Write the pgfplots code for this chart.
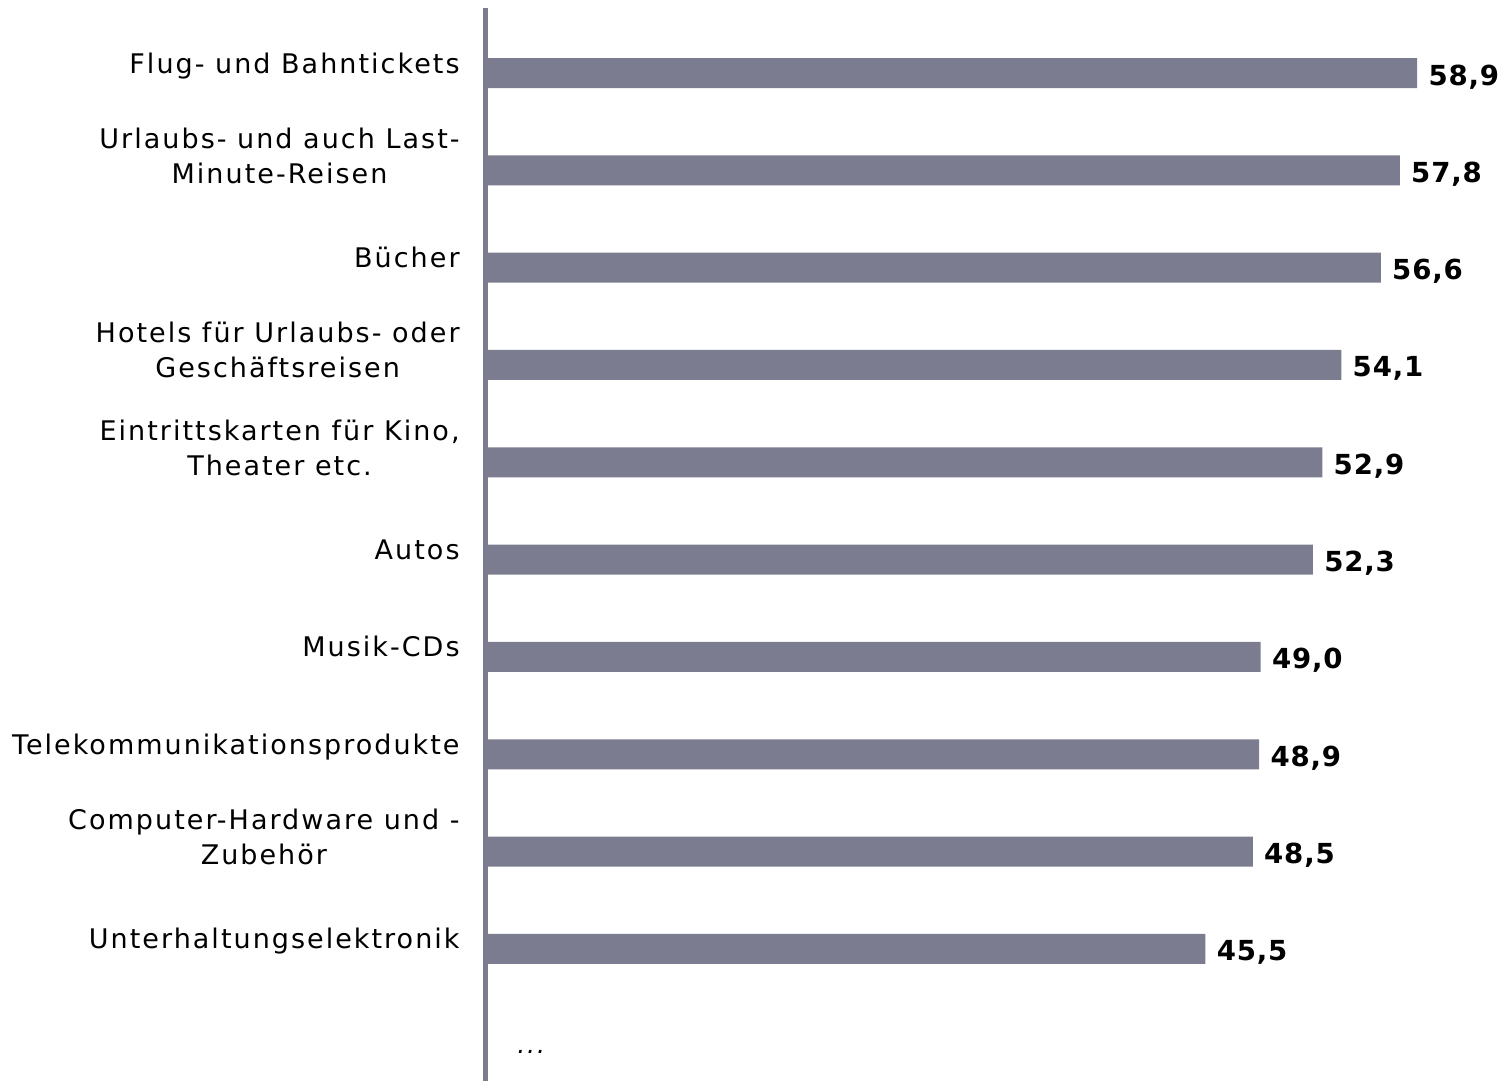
\documentclass[border=0pt]{standalone}
\usepackage{fontspec}
\setmainfont{DejaVu Sans}[LetterSpace=7.5]
\newfontfamily\valfont{DejaVu Sans}[LetterSpace=3]
\usepackage{pgfplots}
\pgfplotsset{compat=1.18}
\definecolor{barcol}{HTML}{7C7C90}
\newcommand{\dn}{\rule[-9.75bp]{0pt}{0pt}}
\begin{document}
\begin{tikzpicture}
\useasboundingbox (-243bp,0) rectangle (508bp,540.5bp);
\begin{axis}[
  scale only axis,
  width=474.3bp, height=536.5bp,
  xbar, bar width=15bp,
  xmin=0, xmax=60,
  ymin=-0.668, ymax=10.357,
  y dir=reverse,
  axis x line=none,
  axis y line=left,
  y axis line style={-, line width=2.5bp, draw=barcol},
  ytick={0,1,2,3,4,5,6,7,8,9},
  yticklabels={
    {\strut Flug- und Bahntickets},
    {\strut Urlaubs- und auch Last-\\\strut Minute-Reisen\dn},
    {\strut Bücher},
    {\strut Hotels für Urlaubs- oder\\\strut Geschäftsreisen\dn},
    {\strut Eintrittskarten für Kino,\\\strut Theater etc.\dn},
    {\strut Autos},
    {\strut Musik-CDs},
    {\strut Telekommunikationsprodukte},
    {\strut Computer-Hardware und -\\\strut Zubehör\dn},
    {\strut Unterhaltungselektronik}
  },
  major tick length=0pt,
  yticklabel style={font=\fontsize{13.5bp}{17.5bp}\selectfont, align=center, inner sep=0pt, xshift=-13bp, yshift=3.5bp, text=black},
  nodes near coords={\pgfmathprintnumber[fixed, fixed zerofill, precision=1, use comma, assume math mode=true]{\pgfplotspointmeta}},
  every node near coord/.append style={font=\valfont\bfseries\fontsize{13.8bp}{16bp}\selectfont, anchor=base west, inner sep=0pt, xshift=5.5bp, yshift=-6bp, text=black},
  clip=false,
]
\addplot[fill=barcol, draw=none] coordinates {
  (58.9,0) (57.8,1) (56.6,2) (54.1,3) (52.9,4) (52.3,5) (49.0,6) (48.9,7) (48.5,8) (45.5,9)
};
\node[anchor=base west, inner sep=0pt, font=\itshape\fontsize{12.5bp}{15bp}\selectfont] at (axis cs:1.96,10.07) {...};
\end{axis}
\end{tikzpicture}
\end{document}
